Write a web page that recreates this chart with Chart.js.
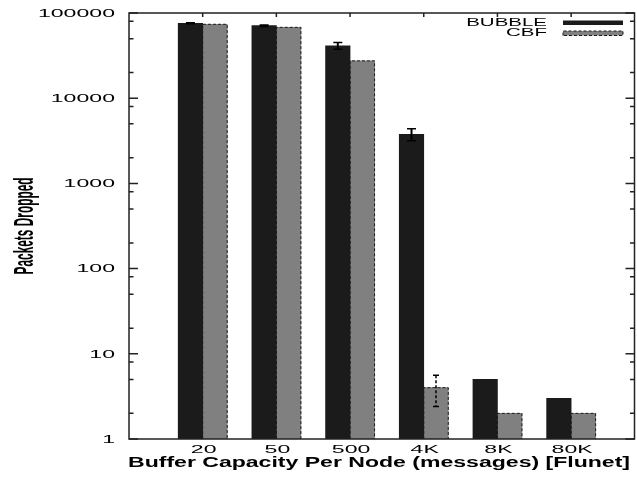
<!DOCTYPE html>
<html>
<head>
<meta charset="utf-8">
<script src="https://cdn.jsdelivr.net/npm/chart.js@4.4.0/dist/chart.umd.min.js"></script>
<style>
html, body { margin: 0; padding: 0; background: #fff; }
#wrap { width: 637px; height: 478px; position: relative; }
</style>
</head>
<body>
<div id="wrap"><canvas id="chart"></canvas></div>
<script>
// Packets dropped per buffer size, gnuplot-style log histogram.
const categories = ["20", "50", "500", "4K", "8K", "80K"];
const bubbleDropped = [75700, 71000, 41300, 3770, 5, 3];
const bubbleError = [1000, 1500, 3800, 600, 0, 0];
const cbfDropped = [73700, 67900, 27400, 4, 2, 2];
const cbfError = [0, 0, 0, 1.6, 0, 0];
const yMajorTicks = [1, 10, 100, 1000, 10000, 100000];
const yMinorSteps = [2, 5, 8];

const seriesNames = ["BUBBLE", "CBF"];
const xTitle = "Buffer Capacity Per Node (messages) [Flunet]";
const yTitle = "Packets Dropped";

const INK = "#000";
const FRAME = "#222";

function drawText(ctx, text, x, y, font, sx, align) {
    ctx.save();
    ctx.font = font;
    ctx.translate(x, y);
    ctx.scale(sx, 1);
    ctx.textAlign = align;
    ctx.textBaseline = "alphabetic";
    ctx.fillStyle = INK;
    ctx.fillText(text, 0, 0);
    ctx.restore();
}

// Squeeze/stretch text so it spans a given width (gnuplot output is distorted).
function fitText(ctx, text, cx, y, font, width) {
    ctx.save();
    ctx.font = font;
    const w = ctx.measureText(text).width;
    ctx.translate(cx, y);
    ctx.scale(width / w, 1);
    ctx.textAlign = "center";
    ctx.textBaseline = "alphabetic";
    ctx.fillStyle = INK;
    ctx.fillText(text, 0, 0);
    ctx.restore();
}

function dashedBox(ctx, x0, y0, x1, y1, withBottom) {
    ctx.save();
    ctx.strokeStyle = "#1a1a1a";
    ctx.lineWidth = 1;
    ctx.setLineDash([3, 2]);
    ctx.beginPath();
    ctx.moveTo(x0, y1);
    ctx.lineTo(x0, y0);
    ctx.lineTo(x1, y0);
    ctx.lineTo(x1, y1);
    if (withBottom) ctx.lineTo(x0, y1);
    ctx.stroke();
    ctx.restore();
}

function errorBar(ctx, x, yScale, value, err, dashed, capHalf, lw) {
    if (!err) return;
    const yTop = yScale.getPixelForValue(value + err);
    const yBot = yScale.getPixelForValue(Math.max(value - err, 1));
    ctx.save();
    ctx.strokeStyle = INK;
    ctx.lineWidth = lw;
    if (dashed) ctx.setLineDash([3, 2]);
    ctx.beginPath();
    ctx.moveTo(x, yTop);
    ctx.lineTo(x, yBot);
    ctx.stroke();
    ctx.setLineDash([]);
    ctx.lineWidth = 1.5;
    ctx.beginPath();
    ctx.moveTo(x - capHalf, yTop);
    ctx.lineTo(x + capHalf, yTop);
    ctx.moveTo(x - capHalf, yBot);
    ctx.lineTo(x + capHalf, yBot);
    ctx.stroke();
    ctx.restore();
}

const gnuplotLook = {
    id: "gnuplotLook",
    afterDatasetsDraw(chart) {
        const ctx = chart.ctx;
        const area = chart.chartArea;
        const xs = chart.scales.x;
        const ys = chart.scales.y;

        // dashed outline on the CBF bars
        chart.getDatasetMeta(1).data.forEach((bar) => {
            const half = bar.width / 2;
            dashedBox(ctx, bar.x - half, bar.y, bar.x + half, bar.base, false);
        });

        // error bars
        chart.getDatasetMeta(0).data.forEach((bar, i) => {
            errorBar(ctx, bar.x, ys, bubbleDropped[i], bubbleError[i], false, 4.5, 2);
        });
        chart.getDatasetMeta(1).data.forEach((bar, i) => {
            errorBar(ctx, bar.x, ys, cbfDropped[i], cbfError[i], true, 3, 1.5);
        });

        // frame
        ctx.save();
        ctx.strokeStyle = FRAME;
        ctx.lineWidth = 1.5;
        ctx.strokeRect(area.left, area.top, area.right - area.left, area.bottom - area.top);

        // y ticks, mirrored inside on both sides
        ctx.beginPath();
        yMajorTicks.forEach((v) => {
            const y = ys.getPixelForValue(v);
            ctx.moveTo(area.left, y);
            ctx.lineTo(area.left + 9, y);
            ctx.moveTo(area.right, y);
            ctx.lineTo(area.right - 9, y);
        });
        yMajorTicks.slice(0, -1).forEach((d) => {
            yMinorSteps.forEach((s) => {
                const y = ys.getPixelForValue(d * s);
                ctx.moveTo(area.left, y);
                ctx.lineTo(area.left + 4.5, y);
                ctx.moveTo(area.right, y);
                ctx.lineTo(area.right - 4.5, y);
            });
        });
        // x ticks on the top edge
        categories.forEach((c, i) => {
            const x = xs.getPixelForValue(i);
            ctx.moveTo(x, area.top);
            ctx.lineTo(x, area.top + 4);
        });
        ctx.stroke();
        ctx.restore();

        // tick labels
        const tickFont = "10.5px 'Liberation Sans', Arial, sans-serif";
        yMajorTicks.forEach((v) => {
            drawText(ctx, String(v), 115, ys.getPixelForValue(v) + 3.8, tickFont, 2.2, "right");
        });
        categories.forEach((c, i) => {
            drawText(ctx, c, xs.getPixelForValue(i) + 1, 452.8, tickFont, 2.2, "center");
        });

        // axis titles
        fitText(ctx, xTitle, 379, 466.5, "bold 14px 'Liberation Sans', Arial, sans-serif", 502);
        ctx.save();
        ctx.translate(33, 226);
        ctx.rotate(-Math.PI / 2);
        fitText(ctx, yTitle, 0, 0, "bold 27px 'Liberation Sans Narrow', 'Liberation Sans', sans-serif", 97);
        ctx.restore();

        // legend, top right
        const legendFont = "10.5px 'Liberation Sans', Arial, sans-serif";
        drawText(ctx, seriesNames[0], 547, 25.8, legendFont, 1.95, "right");
        drawText(ctx, seriesNames[1], 547, 36.1, legendFont, 1.95, "right");
        ctx.save();
        ctx.fillStyle = chart.data.datasets[0].backgroundColor;
        ctx.fillRect(563, 20.5, 60, 4.5);
        ctx.fillStyle = chart.data.datasets[1].backgroundColor;
        ctx.fillRect(563, 31, 60, 4.5);
        ctx.restore();
        dashedBox(ctx, 563, 31, 623, 35.5, true);
    }
};

new Chart(document.getElementById("chart"), {
    type: "bar",
    data: {
        datasets: [
            {
                label: seriesNames[0],
                data: categories.map((c, i) => ({ x: i, y: bubbleDropped[i] })),
                backgroundColor: "#1b1b1b",
                borderWidth: 0,
                barThickness: 24.5,
            },
            {
                label: seriesNames[1],
                data: categories.map((c, i) => ({ x: i, y: cbfDropped[i] })),
                backgroundColor: "#808080",
                borderWidth: 0,
                barThickness: 24.5,
            },
        ],
    },
    options: {
        responsive: true,
        maintainAspectRatio: false,
        animation: false,
        events: [],
        layout: { padding: { left: 129, top: 13, right: 2.5, bottom: 39 } },
        plugins: {
            legend: { display: false },
            tooltip: { enabled: false },
        },
        scales: {
            x: {
                type: "linear",
                min: -1,
                max: 5.86,
                offset: false,
                display: false,
                grid: { offset: false },
            },
            y: {
                type: "logarithmic",
                min: 1,
                max: 100000,
                display: false,
            },
        },
    },
    plugins: [gnuplotLook],
});
</script>
</body>
</html>
